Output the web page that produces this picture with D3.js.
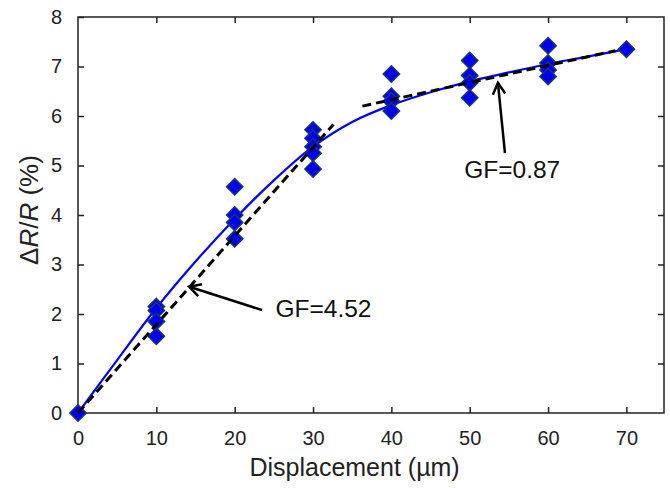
<!DOCTYPE html>
<html>
<head>
<meta charset="utf-8">
<script src="https://cdn.jsdelivr.net/npm/d3@7"></script>
<style>
  body { margin: 0; background: #fff; }
  text { font-family: "Liberation Sans", Arial, sans-serif; }
</style>
</head>
<body>
<div id="chart"></div>
<script>
// measured points (displacement um, dR/R %)
var pointX = [0, 10, 10, 10, 10, 20, 20, 20, 20, 30, 30, 30, 30, 30, 40, 40, 40, 40, 50, 50, 50, 50, 60, 60, 60, 60, 70];
var pointY = [0, 2.15, 2.07, 1.85, 1.55, 4.57, 4.0, 3.85, 3.52, 5.72, 5.55, 5.38, 5.25, 4.93, 6.85, 6.4, 6.3, 6.1, 7.12, 6.82, 6.67, 6.37, 7.42, 7.07, 6.93, 6.8, 7.35];

// fitted curve
var fitX = [0, 5, 10, 15, 20, 25, 30, 35, 40, 45, 50, 55, 60, 65, 70];
var fitY = [0, 1.07, 2.12, 3.06, 3.92, 4.7, 5.38, 5.88, 6.22, 6.48, 6.7, 6.88, 7.05, 7.2, 7.35];

// linear fits (dashed)
var lowFitX = [0, 32.6];
var lowFitY = [0, 5.83];
var highFitX = [36.3, 68.6];
var highFitY = [6.2, 7.32];

// annotations
var labels = ["GF=4.52", "GF=0.87"];
var labelX = [25.2, 49.3];
var labelY = [1.94, 4.75];
var arrowFrom = [[23.5, 2.08], [54.5, 5.25]];
var arrowTo = [[14.2, 2.55], [53.6, 6.67]];

var xTicks = [0, 10, 20, 30, 40, 50, 60, 70];
var yTicks = [0, 1, 2, 3, 4, 5, 6, 7, 8];

function init() {
    var W = 670, H = 488;
    var margin = {top: 17, right: 6, bottom: 75, left: 78};
    var w = W - margin.left - margin.right;
    var h = H - margin.top - margin.bottom;

    var svg = d3.select("#chart").append("svg")
        .attr("width", W)
        .attr("height", H);

    var g = svg.append("g")
        .attr("transform", "translate(" + margin.left + "," + margin.top + ")");

    var x = d3.scaleLinear().domain([0, 74.8]).range([0, w]);
    var y = d3.scaleLinear().domain([0, 8]).range([h, 0]);

    // frame
    g.append("rect")
        .attr("width", w).attr("height", h)
        .attr("fill", "none").attr("stroke", "#222").attr("stroke-width", 1.5);

    //axes with inward ticks
    var xAxis = g.append("g").attr("transform", "translate(0," + h + ")")
        .call(d3.axisBottom(x).tickValues(xTicks).tickSizeInner(-6).tickSizeOuter(0).tickPadding(18));
    var xTop = g.append("g")
        .call(d3.axisTop(x).tickValues(xTicks).tickSizeInner(-6).tickSizeOuter(0).tickFormat(""));
    var yAxis = g.append("g")
        .call(d3.axisLeft(y).tickValues(yTicks).tickSizeInner(-6).tickSizeOuter(0).tickPadding(16));
    var yRight = g.append("g").attr("transform", "translate(" + w + ",0)")
        .call(d3.axisRight(y).tickValues(yTicks).tickSizeInner(-6).tickSizeOuter(0).tickFormat(""));

    [xAxis, xTop, yAxis, yRight].forEach(function(a) {
        a.select(".domain").remove();
        a.selectAll("line").attr("stroke", "#222").attr("stroke-width", 1.5);
        a.selectAll("text").attr("font-size", 20).attr("fill", "#222")
            .style("font-family", "'Liberation Sans', Arial, sans-serif");
    });
    // hide tick at the corners
    xTop.selectAll(".tick").filter(function(d) { return d === 0; }).remove();
    yRight.selectAll(".tick").filter(function(d) { return d === 0 || d === 8; }).remove();

    var fitLine = d3.line()
        .x(function(d) { return x(d[0]); })
        .y(function(d) { return y(d[1]); });

    // blue curve
    g.append("path")
        .datum(fitX.map(function(v, i) { return [v, fitY[i]]; }))
        .attr("d", fitLine.curve(d3.curveCatmullRom))
        .attr("fill", "none").attr("stroke", "#0000ff").attr("stroke-width", 2.2);

    // points
    var diamond = d3.symbol().type(d3.symbolDiamond2).size(170);
    g.selectAll("path.pt")
        .data(pointX.map(function(v, i) { return [v, pointY[i]]; }))
        .enter().append("path")
        .attr("class", "pt")
        .attr("d", diamond)
        .attr("transform", function(d) { return "translate(" + x(d[0]) + "," + y(d[1]) + ")"; })
        .attr("fill", "#0000f0").attr("stroke", "#1b3570").attr("stroke-width", 1.5);

    // dashed linear fits
    var straight = d3.line()
        .x(function(d) { return x(d[0]); })
        .y(function(d) { return y(d[1]); });
    [[lowFitX, lowFitY], [highFitX, highFitY]].forEach(function(s) {
        g.append("path")
            .datum(s[0].map(function(v, i) { return [v, s[1][i]]; }))
            .attr("d", straight)
            .attr("fill", "none").attr("stroke", "#000")
            .attr("stroke-width", 3).attr("stroke-dasharray", "9,5");
    });

    // arrows
    arrowFrom.forEach(function(f, i) {
        var x1 = x(f[0]), y1 = y(f[1]), x2 = x(arrowTo[i][0]), y2 = y(arrowTo[i][1]);
        g.append("line")
            .attr("x1", x1).attr("y1", y1).attr("x2", x2).attr("y2", y2)
            .attr("stroke", "#000").attr("stroke-width", 2.5);
        var ang = Math.atan2(y2 - y1, x2 - x1);
        var len = 13, spread = 0.5;
        var head = [
            [x2 - len * Math.cos(ang - spread), y2 - len * Math.sin(ang - spread)],
            [x2, y2],
            [x2 - len * Math.cos(ang + spread), y2 - len * Math.sin(ang + spread)]
        ];
        g.append("path")
            .attr("d", d3.line()(head))
            .attr("fill", "none").attr("stroke", "#000").attr("stroke-width", 2.5)
            .attr("stroke-linejoin", "miter");
    });

    g.selectAll("text.gf")
        .data(labels)
        .enter().append("text")
        .attr("class", "gf")
        .attr("x", function(d, i) { return x(labelX[i]); })
        .attr("y", function(d, i) { return y(labelY[i]); })
        .attr("font-size", 24.5).attr("fill", "#111")
        .text(function(d) { return d; });

    // axis titles
    svg.append("text")
        .attr("x", margin.left + x(35.3)).attr("y", 476)
        .attr("text-anchor", "middle").attr("font-size", 25).attr("fill", "#222")
        .text("Displacement (\u00b5m)");

    var yl = svg.append("text")
        .attr("transform", "translate(38," + (margin.top + y(4.1)) + ") rotate(-90)")
        .attr("text-anchor", "middle").attr("font-size", 26).attr("fill", "#222");
    yl.append("tspan").text("\u0394");
    yl.append("tspan").attr("font-style", "italic").text("R");
    yl.append("tspan").text("/");
    yl.append("tspan").attr("font-style", "italic").text("R");
    yl.append("tspan").text(" (%)");
}

window.onload = init;
</script>
</body>
</html>
